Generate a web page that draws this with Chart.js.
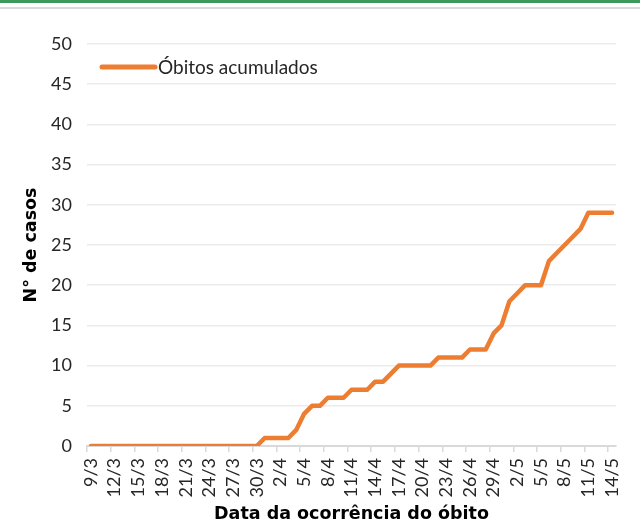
<!DOCTYPE html>
<html lang="pt">
<head>
<meta charset="utf-8">
<title>Óbitos acumulados</title>
<script src="https://cdn.jsdelivr.net/npm/chart.js@4"></script>
<style>
    body { margin: 0; background: #fff; }
    #wrap { position: relative; width: 640px; height: 528px; }
    .bar-green { position: absolute; left: 0; top: 0; width: 640px; height: 3px; background: #3d9a5c; }
    .bar-gray { position: absolute; left: 0; top: 7px; width: 640px; height: 2px; background: #d9d9d9; }
</style>
</head>
<body>
<div id="wrap">
    <canvas id="obitosChart" width="640" height="528"></canvas>
    <div class="bar-green"></div>
    <div class="bar-gray"></div>
</div>
<script>
// Datas de ocorrência (9/3 a 14/5)
const dates = [
    '9/3', '10/3', '11/3', '12/3', '13/3', '14/3', '15/3', '16/3', '17/3', '18/3',
    '19/3', '20/3', '21/3', '22/3', '23/3', '24/3', '25/3', '26/3', '27/3', '28/3',
    '29/3', '30/3', '31/3',
    '1/4', '2/4', '3/4', '4/4', '5/4', '6/4', '7/4', '8/4', '9/4', '10/4',
    '11/4', '12/4', '13/4', '14/4', '15/4', '16/4', '17/4', '18/4', '19/4', '20/4',
    '21/4', '22/4', '23/4', '24/4', '25/4', '26/4', '27/4', '28/4', '29/4', '30/4',
    '1/5', '2/5', '3/5', '4/5', '5/5', '6/5', '7/5', '8/5', '9/5', '10/5',
    '11/5', '12/5', '13/5', '14/5'
];

// Óbitos acumulados por dia
const cumulativeDeaths = [
    0, 0, 0, 0, 0, 0, 0, 0, 0, 0,
    0, 0, 0, 0, 0, 0, 0, 0, 0, 0,
    0, 0, 1,
    1, 1, 1, 2, 4, 5, 5, 6, 6, 6,
    7, 7, 7, 8, 8, 9, 10, 10, 10, 10,
    10, 11, 11, 11, 11, 12, 12, 12, 14, 15,
    18, 19, 20, 20, 20, 23, 24, 25, 26, 27,
    29, 29, 29, 29
];

const yTicks = { min: 0, max: 50, step: 5 };
const seriesName = 'Óbitos acumulados';

const textColor = '#262626';
const fontFamily = 'Lato, "Open Sans", sans-serif';
const titleFamily = '"DejaVu Sans", Verdana, sans-serif';

// legenda desenhada dentro da área do gráfico
const insideLegend = {
    id: 'insideLegend',
    afterDraw(chart) {
        const ds = chart.data.datasets[0];
        const { ctx, chartArea } = chart;
        const x = chartArea.left + 15;
        const y = chartArea.top + 23;
        ctx.save();
        ctx.strokeStyle = ds.borderColor;
        ctx.lineWidth = 5;
        ctx.lineCap = 'round';
        ctx.beginPath();
        ctx.moveTo(x, y);
        ctx.lineTo(x + 53, y);
        ctx.stroke();
        ctx.font = '19px ' + fontFamily;
        ctx.fillStyle = textColor;
        ctx.textBaseline = 'middle';
        ctx.fillText(ds.label, x + 56, y + 1);
        ctx.restore();
    }
};

function createChart() {
    const ctx = document.getElementById('obitosChart').getContext('2d');
    new Chart(ctx, {
        type: 'line',
        data: {
            labels: dates,
            datasets: [{
                label: seriesName,
                data: cumulativeDeaths,
                borderColor: '#ed7d31',
                backgroundColor: '#ed7d31',
                borderWidth: 4.5,
                borderJoinStyle: 'round',
                borderCapStyle: 'round',
                pointRadius: 0,
                tension: 0,
                fill: false
            }]
        },
        options: {
            responsive: false,
            animation: false,
            layout: {
                padding: { left: 21, right: 24, top: 44, bottom: 3 }
            },
            plugins: {
                legend: { display: false },
                tooltip: { enabled: false }
            },
            scales: {
                x: {
                    offset: true,
                    afterFit(scale) { scale.height = 79; },
                    grid: {
                        offset: true,
                        drawOnChartArea: false,
                        drawTicks: true,
                        tickLength: 6,
                        lineWidth: 1.5,
                        color: c => (c.index % 3 === 0 ? '#d9d9d9' : 'rgba(0,0,0,0)')
                    },
                    border: { color: '#d9d9d9', width: 2 },
                    ticks: {
                        autoSkip: false,
                        minRotation: 90,
                        maxRotation: 90,
                        padding: 6,
                        color: textColor,
                        font: { family: fontFamily, size: 18 },
                        callback: (val, i) => (i % 3 === 0 ? dates[i] : '')
                    },
                    title: {
                        display: true,
                        text: 'Data da ocorrência do óbito',
                        color: '#000',
                        padding: 0,
                        font: { family: titleFamily, size: 17.5, weight: 'bold' }
                    }
                },
                y: {
                    min: yTicks.min,
                    max: yTicks.max,
                    afterFit(scale) { scale.width = 66; },
                    grid: {
                        color: '#ececec',
                        lineWidth: 1.5,
                        drawTicks: false
                    },
                    border: { display: false },
                    ticks: {
                        stepSize: yTicks.step,
                        padding: 15,
                        color: textColor,
                        font: { family: fontFamily, size: 18 }
                    },
                    title: {
                        display: true,
                        text: 'N° de casos',
                        color: '#000',
                        padding: 0,
                        font: { family: titleFamily, size: 17.5, weight: 'bold' }
                    }
                }
            }
        },
        plugins: [insideLegend]
    });
}

document.addEventListener('DOMContentLoaded', createChart);
</script>
</body>
</html>
